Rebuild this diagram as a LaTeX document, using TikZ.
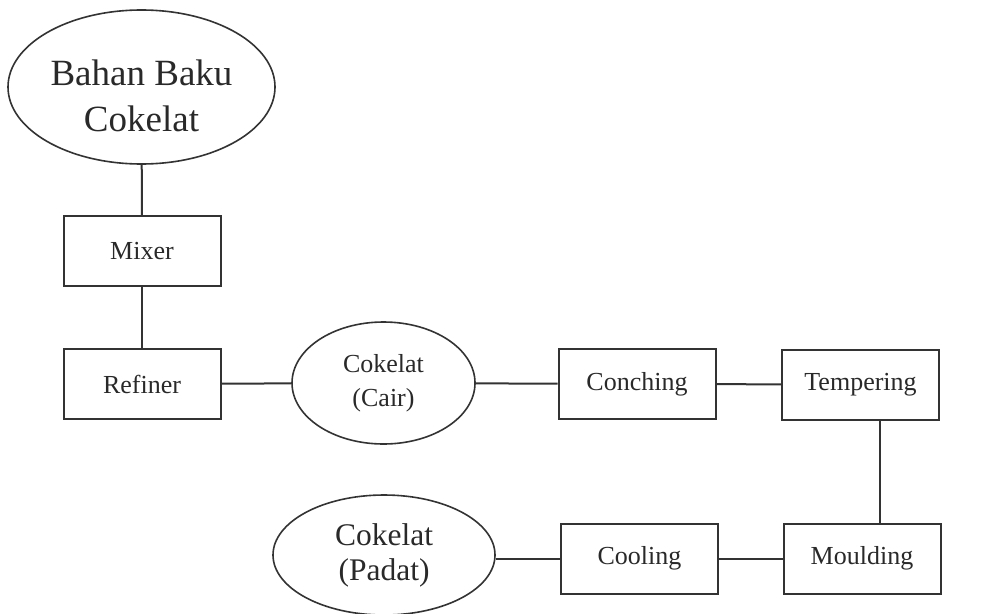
\documentclass[tikz,border=0pt]{standalone}
\usepackage{fontspec}
\setmainfont{Liberation Serif}
\usetikzlibrary{shapes.geometric}
\definecolor{ink}{HTML}{333333}
\begin{document}
\begin{tikzpicture}[x=1pt,y=-1pt,
  box/.style={draw=ink, line width=2pt, rectangle, inner sep=0pt,
    minimum width=157pt, minimum height=70pt, text=ink!80!black,
    font=\fontsize{26}{32}\selectfont},
  blob/.style={draw=ink, line width=1.6pt, ellipse, inner sep=0pt,
    align=center, text=ink!80!black},
  link/.style={draw=ink, line width=2pt}]
  \useasboundingbox (0,0) rectangle (1003,613);
  \node[blob, minimum width=267pt, minimum height=154pt,
    label={[yshift=-9pt, align=center, text=ink!80!black,
      font=\fontsize{37}{46}\selectfont]center:Bahan Baku\\Cokelat}] (bahan) at (141.5,87) {};
  \node[box] (mixer) at (142,251) {Mixer};
  \node[box] (refiner) at (142,384) {Refiner};
  \node[blob, minimum width=183pt, minimum height=122pt,
    font=\fontsize{26}{34}\selectfont] (cair) at (383.5,383) {Cokelat\\(Cair)};
  \node[box] (conching) at (637,384) {Conching};
  \node[box] (tempering) at (860.5,384.5) {Tempering};
  \node[box] (moulding) at (862,558.5) {Moulding};
  \node[box] (cooling) at (639.5,558.5) {Cooling};
  \node[blob, minimum width=222pt, minimum height=120pt,
    font=\fontsize{31.5}{35}\selectfont] (padat) at (384,555) {Cokelat\\(Padat)};
  \draw[link] (bahan) -- (mixer);
  \draw[link] (mixer) -- (refiner);
  \draw[link] (refiner) -- (cair);
  \draw[link] (cair) -- (conching);
  \draw[link] (conching) -- (tempering);
  \draw[link] ([xshift=19.5pt]tempering.south) -- ([xshift=19.5pt]tempering.south |- moulding.north);
  \draw[link] (moulding) -- (cooling);
  \draw[link] (cooling.west) -- (cooling.west -| padat.east);
\end{tikzpicture}
\end{document}
